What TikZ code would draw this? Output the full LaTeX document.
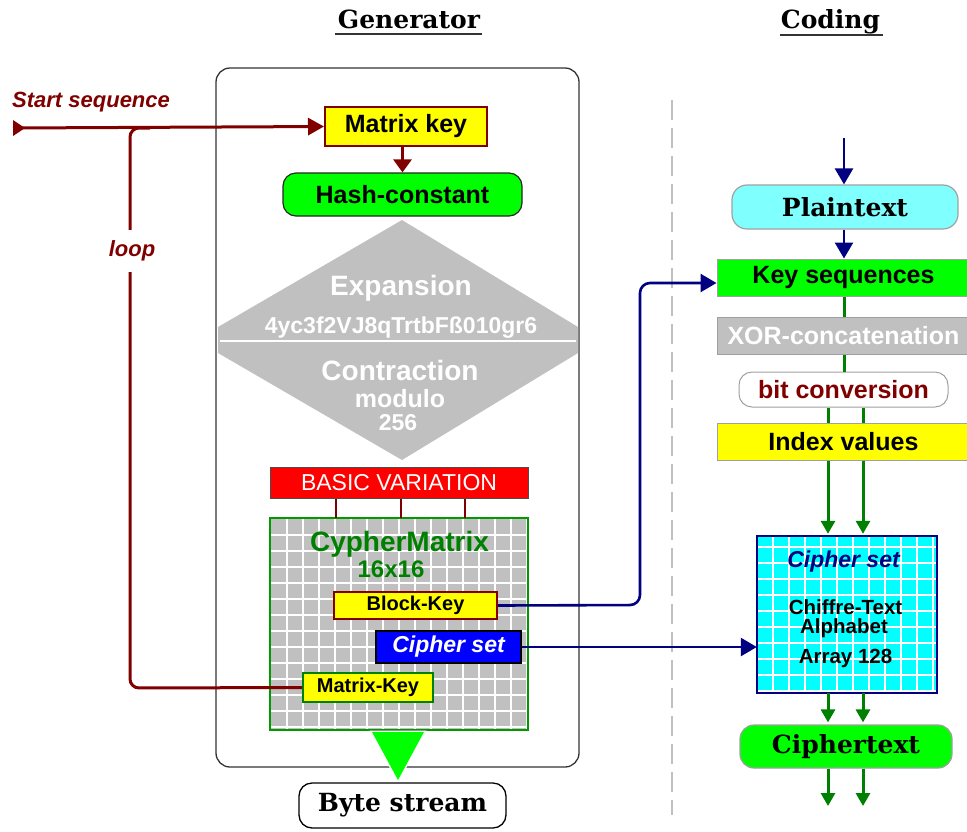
\documentclass[tikz,border=0pt]{standalone}
\usepackage{fontspec}
\setmainfont{Liberation Sans}
\newfontfamily\schb{DejaVu Serif}
\usetikzlibrary{arrows.meta}
\definecolor{dred}{HTML}{800000}
\definecolor{navyc}{HTML}{000080}
\definecolor{lgreen}{HTML}{00FF00}
\definecolor{dgreen}{HTML}{008000}
\definecolor{grayc}{HTML}{C0C0C0}
\definecolor{cyanc}{HTML}{00FFFF}
\definecolor{lcyan}{HTML}{80FFFF}
\definecolor{bluec}{HTML}{0000FF}
\definecolor{yellowc}{HTML}{FFFF00}
\definecolor{redc}{HTML}{FF0000}
\definecolor{bgray}{HTML}{A0A0A0}
\newcommand\fsz[1]{\fontsize{#1}{#1}\selectfont}
\begin{document}
\begin{tikzpicture}[x=1pt,y=-1pt,
  box/.style={inner sep=0pt, align=center, font={\bfseries\fsz{25}}},
  txt/.style={inner sep=0pt, anchor=base},
  serifbox/.style={inner sep=0pt, font={\schb\bfseries\fsz{25}}},
  redline/.style={dred, line width=3pt},
  navyline/.style={navyc, line width=2.6pt},
  gline/.style={dgreen, line width=3pt},
  redtip/.style={-{Triangle[length=16pt,width=17pt]}},
  navytip/.style={-{Triangle[length=16pt,width=18pt]}},
  gtip/.style={-{Triangle[length=13pt,width=14pt]}},
]
\useasboundingbox (0,0) rectangle (967,831);

% titles
\node[txt, font={\schb\bfseries\fsz{25}}] (gentitle) at (409,28) {Generator};
\draw[black!80, line width=2pt] (335,34) -- (482,34);
\node[txt, font={\schb\bfseries\fsz{25}}] (codtitle) at (830.5,28) {Coding};
\draw[black!80, line width=2pt] (780,35) -- (883,35);

% dashed separator
\draw[grayc, line width=1.5pt, dash pattern=on 20pt off 8pt] (672,100) -- (672,815);

% generator container
\node[draw=black!80, line width=1.3pt, rounded corners=14, minimum width=363, minimum height=699, inner sep=0] (genbox) at (397.5,417.5) {};

% start sequence
\node[txt, anchor=base west, text=dred, font={\bfseries\itshape\fsz{22}}] (startlbl) at (12,107) {Start sequence};
\coordinate (s0) at (13,128);
\fill[dred] (s0) ++(0,-8) -- ++(12,8) -- ++(-12,8) -- cycle;

% Matrix key
\node[box, draw=dred, line width=2pt, fill=yellowc, minimum width=162, minimum height=39] (mkey) at (406,126.5) {Matrix key};
\draw[redline, redtip] (s0) -- (mkey.west);

% Hash-constant
\node[box, draw=black!85, line width=1.2pt, fill=lgreen, rounded corners=13, minimum width=239, minimum height=43] (hash) at (402.5,194.5) {Hash-constant};
\draw[redline, -{Triangle[length=13pt,width=18pt]}] (mkey.south -| hash.north) -- (hash.north);

% diamond
\fill[grayc] (402,220) -- (578,327) -- (578,353) -- (402,460) -- (218,353) -- (218,327) -- cycle;
\draw[white, line width=1.5pt] (220,341) -- (576,341);
\node[txt, white, font={\bfseries\fsz{28}}] (expa) at (401,295) {Expansion};
\node[txt, white, font={\bfseries\fsz{23}}] (expstr) at (401,333) {4yc3f2VJ8qTrtbFß010gr6};
\node[txt, white, font={\bfseries\fsz{28}}] (contr) at (400,380) {Contraction};
\node[txt, white, font={\bfseries\fsz{25}}] (modu) at (400,407) {modulo};
\node[txt, white, font={\bfseries\fsz{23}}] (n256) at (398,430) {256};

% basic variation
\node[inner sep=0, draw=black!70, line width=1pt, fill=redc, text=white, font={\fsz{23}}, minimum width=258, minimum height=31] (basic) at (399,482.5) {BASIC VARIATION};

% cypher matrix grid
\node[inner sep=0, fill=grayc, minimum width=258, minimum height=212] (mat) at (399,624) {};
\foreach \x in {287,303,...,527} \draw[white, line width=1.3pt] (\x,518) -- (\x,730);
\foreach \y in {535,551,...,727} \draw[white, line width=1.3pt] (270,\y) -- (528,\y);
\draw[dgreen!80!lgreen, line width=1.5pt] (mat.north west) rectangle (mat.south east);
\foreach \x in {336,401,465} \draw[dred, line width=2.5pt] (basic.south -| \x,0) -- (mat.north -| \x,0);

\node[txt, text=dgreen, font={\bfseries\fsz{28}}] (cmtitle) at (399.5,551) {CypherMatrix};
\node[txt, text=dgreen, font={\bfseries\fsz{24}}] (cmsize) at (391,577) {16x16};

\node[box, draw=dred, line width=2pt, fill=yellowc, minimum width=163, minimum height=27, font={\bfseries\fsz{20}}] (bkey) at (415.5,605.5) {Block-Key};
\node[box, draw=black, line width=1.5pt, fill=bluec, text=white, minimum width=145, minimum height=32, font={\bfseries\itshape\fsz{23}}] (cset) at (448.5,647) {Cipher set};
\node[box, draw=dgreen, line width=2pt, fill=yellowc, minimum width=130, minimum height=29, font={\bfseries\fsz{20}}] (mkey2) at (368,687.5) {Matrix-Key};

% loop connector
\draw[redline, rounded corners=9] (mkey2.west) -- (130,688) -- (130,128) -- (150,128);
\node[fill=white, inner sep=0, minimum width=52, minimum height=42, text=dred, font={\bfseries\itshape\fsz{22}}] (looplbl) at (132,251) {loop};

% byte stream
\draw[white, line width=3pt, fill=lgreen] (372,732) -- (424,732) -- (398,780) -- cycle;
\fill[lgreen] (372,732) -- (424,732) -- (398,780) -- cycle;
\node[serifbox, draw=black, line width=1.3pt, fill=white, rounded corners=13, minimum width=207, minimum height=45] (byte) at (402.5,805.5) {Byte stream};

% coding column
\node[serifbox, draw=bgray, line width=1.2pt, fill=lcyan, rounded corners=15, minimum width=226, minimum height=44] (plain) at (845,207) {Plaintext};
\node[box, draw=bgray, line width=1pt, fill=lgreen, minimum width=253, minimum height=37] (keyseq) at (843.5,277.5) {Key sequences};
\node[box, draw=bgray, line width=1pt, fill=grayc, text=white, minimum width=253, minimum height=37] (xor) at (843.5,335.5) {XOR-concatenation};
\node[box, draw=bgray, line width=1pt, fill=white, text=dred, rounded corners=13, minimum width=209, minimum height=35] (bitc) at (843.5,389.5) {bit conversion};
\node[box, draw=bgray, line width=1pt, fill=yellowc, minimum width=253, minimum height=37] (index) at (843.5,441.5) {Index values};

% cipher set box
\node[inner sep=0, fill=cyanc, minimum width=180, minimum height=157] (cbox) at (847,614.5) {};
\foreach \x in {773,789,...,933} \draw[white, line width=1.3pt] (\x,536) -- (\x,693);
\foreach \y in {547,563,...,691} \draw[white, line width=1.3pt] (757,\y) -- (937,\y);
\draw[navyc, line width=2.5pt] (cbox.north west) rectangle (cbox.south east);
\node[txt, text=navyc, font={\bfseries\itshape\fsz{23}}] (cstitle) at (843.5,567) {Cipher set};
\node[txt, font={\bfseries\fsz{20.5}}] (cs1) at (845.5,614) {Chiffre-Text};
\node[txt, font={\bfseries\fsz{20.5}}] (cs2) at (844,633) {Alphabet};
\node[txt, font={\bfseries\fsz{20.5}}] (cs3) at (845.5,663) {Array 128};

\node[serifbox, draw=bgray, line width=1.2pt, fill=lgreen, rounded corners=14, minimum width=212, minimum height=43] (ctext) at (846,746.5) {Ciphertext};

% connectors coding
\coordinate (pin) at (844,138);
\draw[navyline, navytip] (pin) -- (pin |- plain.north);
\draw[navyline, navytip] (plain.south -| pin) -- (keyseq.north -| pin);
\coordinate (kturn) at (640,283);
\draw[navyline, navytip, rounded corners=10] (bkey.east) -- (640,605) -- (kturn) -- (keyseq.west |- kturn);
\draw[navyline, navytip] (cset.east) -- (cbox.west |- cset.east);

\coordinate (gm) at (844,0);
\coordinate (ga) at (828,0);
\coordinate (gb) at (863,0);
\coordinate (gend) at (0,806);
\draw[gline] (keyseq.south -| gm) -- (xor.north -| gm);
\draw[gline] (xor.south -| gm) -- (bitc.north -| gm);
\foreach \c in {ga,gb} {
  \draw[gline] (bitc.south -| \c) -- (index.north -| \c);
  \draw[gline, gtip, shorten >=2pt] (index.south -| \c) -- (cbox.north -| \c);
  \draw[gline, gtip, shorten >=2pt] (cbox.south -| \c) -- (ctext.north -| \c);
  \draw[gline, gtip] (ctext.south -| \c) -- (\c |- gend);
}
\end{tikzpicture}
\end{document}
